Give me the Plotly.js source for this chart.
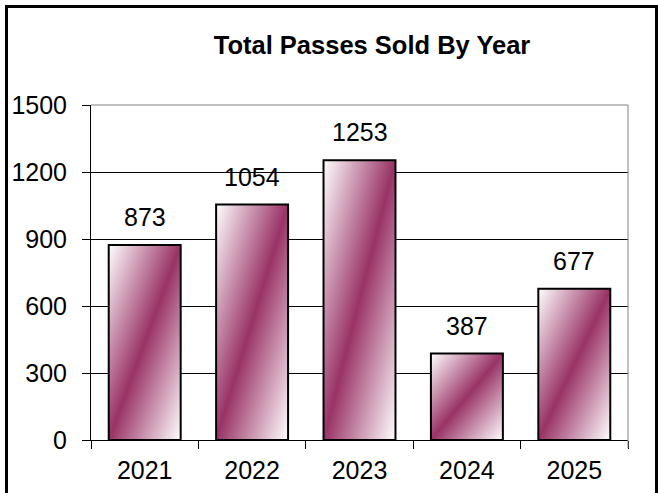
<!DOCTYPE html>
<html>
<head>
<meta charset="utf-8">
<script src="https://cdn.plot.ly/plotly-3.0.1.min.js"></script>
<style>
  html, body { margin: 0; padding: 0; background: #fff; }
  #wrap { position: relative; width: 658px; height: 493px; overflow: hidden; }
  #frame { position: absolute; left: 5px; top: 5px; width: 647px; height: 600px;
           border: 3px solid #000; box-sizing: content-box; }
  #chart { position: absolute; left: 0; top: 0; width: 658px; height: 493px; }
</style>
</head>
<body>
<div id="wrap">
  <div id="frame"></div>
  <div id="chart"></div>
</div>
<script>
const years = ["2021", "2022", "2023", "2024", "2025"];
const passes = [873, 1054, 1253, 387, 677];
const yTicks = [0, 300, 600, 900, 1200, 1500];
const chartTitle = "Total Passes Sold By Year";

const FONT = "Liberation Sans, Arial, sans-serif";

const trace = {
  type: "bar",
  x: years,
  y: passes,
  marker: { color: "#993366", line: { color: "#000", width: 2 } },
  hoverinfo: "skip"
};

const annotations = years.map((yr, i) => ({
  x: i, y: passes[i], xref: "x", yref: "y",
  text: String(passes[i]), showarrow: false,
  yanchor: "bottom", yshift: 12,
  font: { family: FONT, size: 25, color: "#000" }
}));

const layout = {
  width: 658, height: 493,
  margin: { l: 91, r: 29.5, t: 105, b: 52.5 },
  paper_bgcolor: "rgba(0,0,0,0)",
  plot_bgcolor: "rgba(0,0,0,0)",
  showlegend: false,
  bargap: 0.33,
  title: {
    text: "<b>" + chartTitle + "</b>",
    font: { family: FONT, size: 25.5, color: "#000" },
    x: 372 / 658, xanchor: "center", xref: "container",
    y: 1 - 45 / 493, yanchor: "middle", yref: "container"
  },
  xaxis: {
    type: "category",
    range: [-0.5, years.length - 0.5],
    autorange: false,
    showgrid: false,
    showline: true, linecolor: "#000", linewidth: 1,
    ticks: "outside", ticklen: 8, tickcolor: "#000", tickwidth: 1,
    tickson: "boundaries",
    ticklabelstandoff: 8,
    tickfont: { family: FONT, size: 25, color: "#000" },
    zeroline: false
  },
  yaxis: {
    range: [0, 1500],
    autorange: false,
    tickvals: yTicks,
    ticktext: yTicks.map(String),
    showgrid: true, gridcolor: "#000", gridwidth: 1,
    showline: true, linecolor: "#000", linewidth: 1,
    ticks: "outside", ticklen: 8, tickcolor: "#000", tickwidth: 1,
    ticklabelstandoff: 10,
    tickfont: { family: FONT, size: 25, color: "#000" },
    zeroline: false
  },
  shapes: [
    { type: "line", xref: "paper", yref: "paper", x0: 0, x1: 1, y0: 1, y1: 1,
      line: { color: "#808080", width: 1 }, layer: "above" },
    { type: "line", xref: "paper", yref: "paper", x0: 1, x1: 1, y0: -0.024, y1: 1,
      line: { color: "#808080", width: 1 }, layer: "above" }
  ],
  annotations: annotations
};

Plotly.newPlot("chart", [trace], layout, { staticPlot: true, displayModeBar: false }).then(gd => {
  const svg = gd.querySelector("svg.main-svg");
  const ns = "http://www.w3.org/2000/svg";
  let defs = svg.querySelector("defs");
  if (!defs) { defs = document.createElementNS(ns, "defs"); svg.insertBefore(defs, svg.firstChild); }
  const grad = document.createElementNS(ns, "linearGradient");
  grad.setAttribute("id", "barGrad");
  grad.setAttribute("x1", "0"); grad.setAttribute("y1", "0");
  grad.setAttribute("x2", "1"); grad.setAttribute("y2", "1");
  [["0", "#ffffff"], ["0.5", "#993366"], ["1", "#ffffff"]].forEach(([o, c]) => {
    const s = document.createElementNS(ns, "stop");
    s.setAttribute("offset", o); s.setAttribute("stop-color", c);
    grad.appendChild(s);
  });
  defs.appendChild(grad);
  gd.querySelectorAll(".barlayer .point path").forEach(p => {
    p.style.fill = "url(#barGrad)";
    p.style.fillOpacity = 1;
  });
});
</script>
</body>
</html>
